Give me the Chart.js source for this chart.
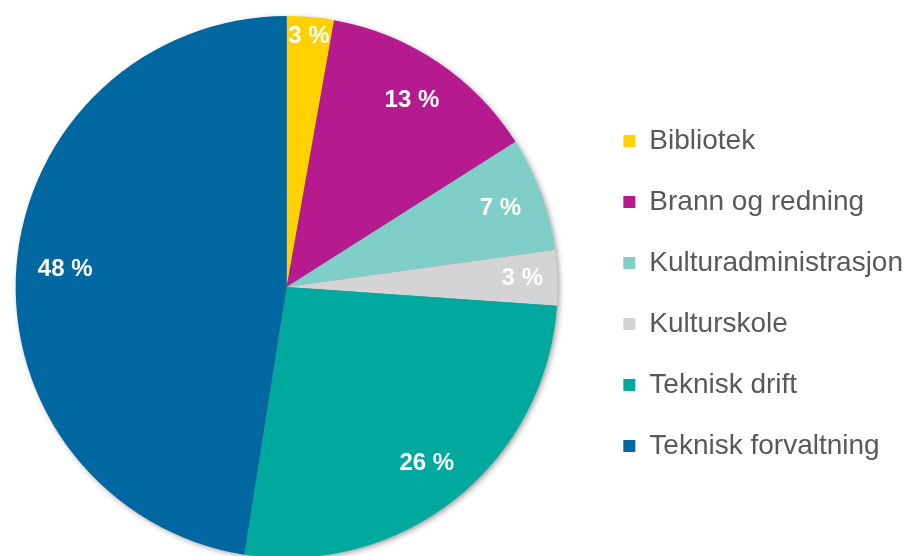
<!DOCTYPE html>
<html>
<head>
<meta charset="utf-8">
<script src="https://cdn.jsdelivr.net/npm/chart.js@4/dist/chart.umd.min.js"></script>
<style>
  html, body { margin: 0; padding: 0; background: #fff; overflow: hidden; }
  /* canvas a bit wider/taller than the window so the pie sits where it should */
  #wrap { position: relative; width: 930px; height: 574px; margin-left: -17px; }
</style>
</head>
<body>
<div id="wrap"><canvas id="chart1"></canvas></div>
<script>
// Data
const categories = ['Bibliotek', 'Brann og redning', 'Kulturadministrasjon', 'Kulturskole', 'Teknisk drift', 'Teknisk forvaltning'];
const shares = [2.8, 13.2, 6.8, 3.3, 26.4, 47.5];
const shareLabels = ['3 %', '13 %', '7 %', '3 %', '26 %', '48 %'];
const sliceColors = ['#FFD100', '#B51B8E', '#7FCEC8', '#D4D4D7', '#00A99D', '#0067A0'];

// soft shadow behind the whole pie
const pieShadow = {
  id: 'pieShadow',
  beforeDatasetsDraw(chart) {
    const arc = chart.getDatasetMeta(0).data[0];
    if (!arc) return;
    const ctx = chart.ctx;
    ctx.save();
    ctx.shadowColor = 'rgba(0,0,0,0.45)';
    ctx.shadowBlur = 6;
    ctx.shadowOffsetX = 2;
    ctx.shadowOffsetY = 2;
    ctx.fillStyle = '#888';
    ctx.beginPath();
    ctx.arc(arc.x, arc.y, arc.outerRadius - 1, 0, Math.PI * 2);
    ctx.fill();
    ctx.restore();
  }
};

// percent labels inside the slices
const sliceLabels = {
  id: 'sliceLabels',
  afterDatasetsDraw(chart, args, opts) {
    const ctx = chart.ctx;
    ctx.save();
    ctx.fillStyle = '#fff';
    ctx.font = 'bold 24px "Liberation Sans", Arial, sans-serif';
    ctx.textAlign = 'center';
    ctx.textBaseline = 'middle';
    chart.getDatasetMeta(0).data.forEach((arc, i) => {
      const mid = (arc.startAngle + arc.endAngle) / 2;
      const r = arc.outerRadius * opts.radius[i];
      ctx.fillText(shareLabels[i], arc.x + Math.cos(mid) * r, arc.y + Math.sin(mid) * r);
    });
    ctx.restore();
  }
};

var ctx = document.getElementById('chart1').getContext('2d');
var chart = new Chart(ctx, {
  type: 'pie',
  data: {
    labels: categories,
    datasets: [
      {
        data: shares,
        backgroundColor: sliceColors,
        borderWidth: 0,
      },
    ],
  },
  options: {
    responsive: true,
    maintainAspectRatio: false,
    animation: false,
    events: [],
    layout: {
      padding: { top: 16, bottom: 16, left: 0, right: 0 },
    },
    plugins: {
      tooltip: { enabled: false },
      sliceLabels: { radius: [0.93, 0.83, 0.84, 0.87, 0.83, 0.82] },
      legend: {
        position: 'right',
        // empty title only nudges the items down a little
        title: { display: true, text: ' ', font: { size: 1, lineHeight: 1 }, padding: { top: 6, bottom: 6 } },
        labels: {
          boxWidth: 12,
          boxHeight: 12,
          padding: 33,
          color: '#595959',
          font: { family: '"Liberation Sans", Arial, sans-serif', size: 28 },
        },
      },
    },
  },
  plugins: [pieShadow, sliceLabels],
});
</script>
</body>
</html>
